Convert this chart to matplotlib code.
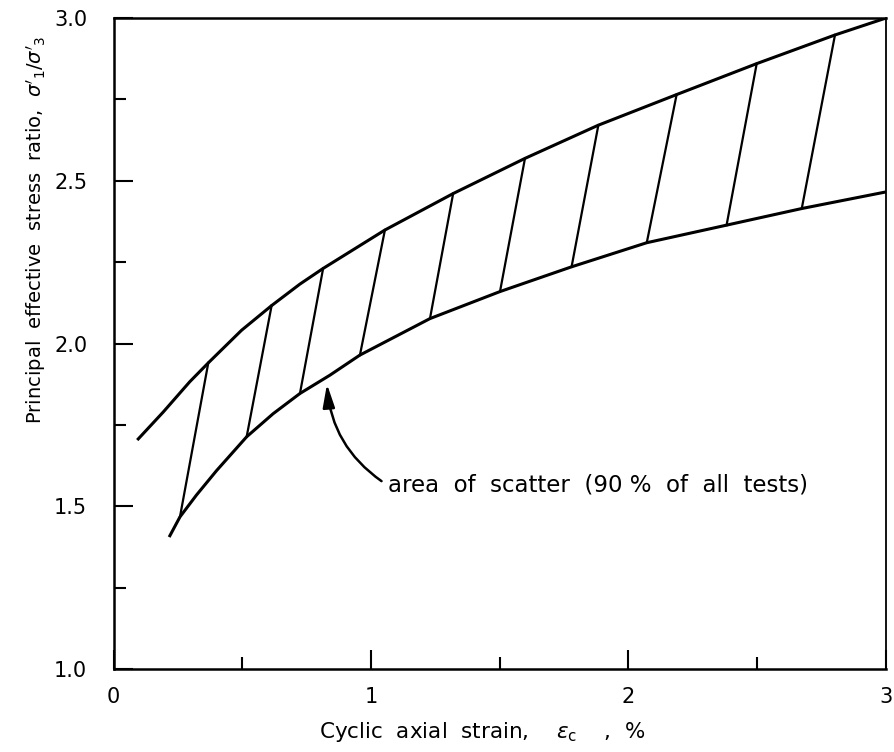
import numpy as np
import matplotlib
matplotlib.use("Agg")
import matplotlib.pyplot as plt
from matplotlib.ticker import MultipleLocator

# upper and lower bounds of the scatter band
upper_x = [0.092, 0.193, 0.296, 0.368, 0.497, 0.614, 0.724, 0.814, 1.054, 1.319, 1.598, 1.883, 2.187, 2.498, 2.802, 3.0]
upper_y = [1.704, 1.790, 1.883, 1.941, 2.041, 2.117, 2.183, 2.231, 2.349, 2.461, 2.569, 2.671, 2.765, 2.860, 2.948, 3.0]
lower_x = [0.216, 0.258, 0.322, 0.400, 0.517, 0.620, 0.724, 0.840, 0.957, 1.093, 1.229, 1.501, 1.779, 2.071, 2.381, 2.673, 3.0]
lower_y = [1.406, 1.468, 1.535, 1.610, 1.714, 1.785, 1.847, 1.903, 1.965, 2.021, 2.077, 2.160, 2.236, 2.310, 2.364, 2.415, 2.466]

# hatch strokes (lower end -> upper end)
hatch_x0 = [0.258, 0.517, 0.724, 0.957, 1.229, 1.501, 1.779, 2.071, 2.381, 2.673]
hatch_y0 = [1.468, 1.714, 1.847, 1.965, 2.077, 2.160, 2.236, 2.310, 2.364, 2.415]
hatch_x1 = [0.368, 0.614, 0.814, 1.054, 1.319, 1.598, 1.883, 2.187, 2.498, 2.802]
hatch_y1 = [1.941, 2.117, 2.231, 2.349, 2.461, 2.569, 2.671, 2.765, 2.860, 2.948]

x_ticks = [0, 1, 2, 3]
y_ticks = [1.0, 1.5, 2.0, 2.5, 3.0]

plt.rcParams['font.family'] = ['DejaVu Sans']
plt.rcParams['font.size'] = 14

fig = plt.figure(figsize=(8.94, 7.52), dpi=100)
ax = fig.add_axes([0.127, 0.110, 0.864, 0.866])

ax.plot(upper_x, upper_y, '-k', lw=2.2, solid_capstyle='butt', solid_joinstyle='round')
ax.plot(lower_x, lower_y, '-k', lw=2.2, solid_capstyle='butt', solid_joinstyle='round')
for x0, y0, x1, y1 in zip(hatch_x0, hatch_y0, hatch_x1, hatch_y1):
    ax.plot([x0, x1], [y0, y1], '-k', lw=1.6)

ax.annotate("area  of  scatter  (90 %  of  all  tests)",
            xy=(0.829, 1.876), xytext=(1.065, 1.565),
            ha='left', va='center', fontsize=16.5,
            arrowprops=dict(arrowstyle='-|>,head_length=0.7,head_width=0.18',
                            connectionstyle='arc3,rad=-0.25',
                            relpos=(0, 0.5),
                            lw=1.8, color='k', shrinkA=3, shrinkB=0,
                            mutation_scale=20))

ax.set_xlim(0, 3)
ax.set_ylim(1.0, 3.0)
ax.set_xticks(x_ticks)
ax.set_xticklabels([str(t) for t in x_ticks])
ax.set_yticks(y_ticks)
ax.set_yticklabels([f"{t:.1f}" for t in y_ticks])
ax.xaxis.set_minor_locator(MultipleLocator(0.5))
ax.yaxis.set_minor_locator(MultipleLocator(0.25))
ax.tick_params(which='major', direction='in', length=13.5, width=1.5,
               labelsize=15, top=False, right=False)
ax.tick_params(axis='x', which='major', pad=13)
ax.tick_params(axis='y', which='major', pad=19)
ax.tick_params(which='minor', direction='in', length=8.5, width=1.5,
               top=False, right=False)

for side in ['left', 'bottom', 'top']:
    ax.spines[side].set_linewidth(1.8)
ax.spines['right'].set_linewidth(1.3)

ax.set_xlabel(r"Cyclic  axial  strain,    $\varepsilon_{\mathrm{c}}$    ,  %", fontsize=15.5)
ax.xaxis.set_label_coords(0.477, -0.078)
ax.set_ylabel(r"Principal  effective  stress  ratio,  $\sigma'_1/\sigma'_3$", fontsize=14)
ax.yaxis.set_label_coords(-0.085, 0.674)

fig.savefig("out.png", dpi=100)
